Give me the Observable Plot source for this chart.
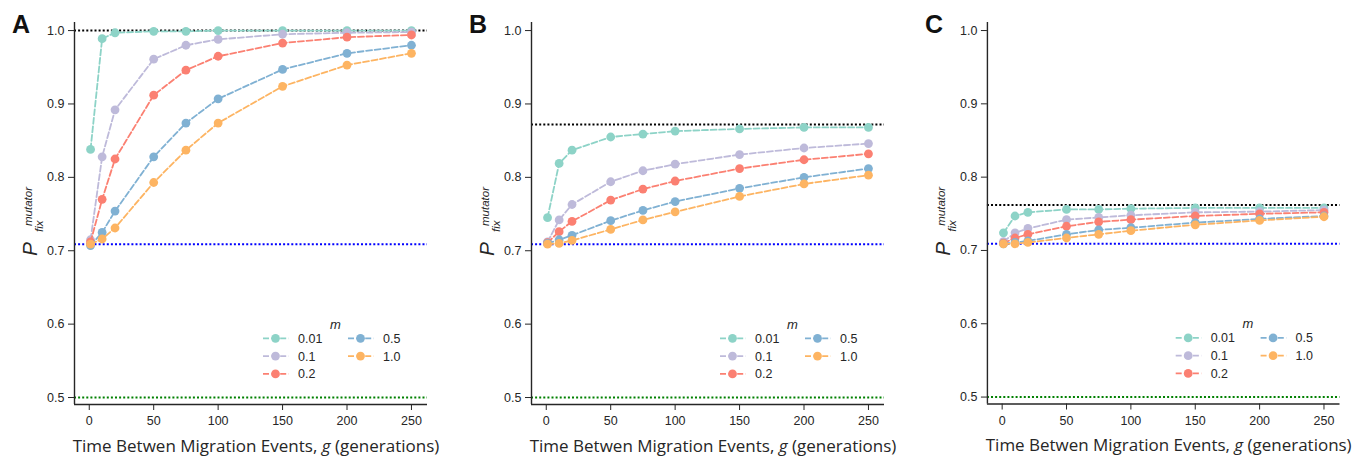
<!DOCTYPE html>
<html><head><meta charset="utf-8">
<script src="https://cdn.jsdelivr.net/npm/d3@7"></script>
<script src="https://cdn.jsdelivr.net/npm/@observablehq/plot@0.6"></script>
<style>
body{margin:0;background:#fff;}
#wrap{position:relative;width:1355px;height:457px;overflow:hidden;}
.panel{position:absolute;top:0;}
</style></head><body><div id="wrap"></div>
<script>
// ---- data ----
const g = [1, 10, 20, 50, 75, 100, 150, 200, 250];
const mLabels = ["0.01", "0.1", "0.2", "0.5", "1.0"];
const mColors = ["#8dd3c7", "#bebada", "#fb8072", "#80b1d3", "#fdb462"];
const panelLetters = ["A", "B", "C"];
const refTop = [1.0, 0.872, 0.762];     // black dotted line
const refBase = 0.709;                  // blue dotted line
const refHalf = 0.5;                    // green dotted line
const yTicks = [0.5, 0.6, 0.7, 0.8, 0.9, 1.0];
const xTicks = [0, 50, 100, 150, 200, 250];

const panelA = [
  [0.838, 0.989, 0.997, 0.999, 0.999, 1.000, 1.000, 1.000, 1.000],
  [0.715, 0.828, 0.892, 0.961, 0.980, 0.988, 0.995, 0.997, 0.998],
  [0.712, 0.770, 0.825, 0.912, 0.946, 0.965, 0.983, 0.991, 0.994],
  [0.707, 0.725, 0.754, 0.828, 0.874, 0.907, 0.947, 0.969, 0.980],
  [0.709, 0.716, 0.731, 0.793, 0.837, 0.874, 0.924, 0.953, 0.969]
];
const panelB = [
  [0.745, 0.819, 0.837, 0.855, 0.859, 0.863, 0.866, 0.868, 0.868],
  [0.712, 0.742, 0.763, 0.794, 0.809, 0.818, 0.831, 0.840, 0.846],
  [0.711, 0.726, 0.740, 0.769, 0.784, 0.795, 0.812, 0.824, 0.832],
  [0.710, 0.715, 0.721, 0.741, 0.755, 0.767, 0.785, 0.800, 0.812],
  [0.709, 0.710, 0.714, 0.729, 0.742, 0.753, 0.774, 0.791, 0.803]
];
const panelC = [
  [0.724, 0.747, 0.752, 0.756, 0.756, 0.757, 0.758, 0.758, 0.758],
  [0.712, 0.724, 0.730, 0.742, 0.745, 0.748, 0.752, 0.753, 0.755],
  [0.710, 0.717, 0.722, 0.733, 0.739, 0.742, 0.747, 0.750, 0.752],
  [0.709, 0.711, 0.713, 0.722, 0.728, 0.731, 0.738, 0.743, 0.747],
  [0.709, 0.709, 0.711, 0.717, 0.722, 0.727, 0.735, 0.741, 0.746]
];
const panels = [panelA, panelB, panelC];

// ---- layout ----
const panelLeft = [0, 456.5, 912.5];
const panelWidth = [456, 456, 443];
const xDomain = [-11.45, 262.45];
const yDomain = [0.4905, 1.011];
const ML = 74, PW = 353;
const FONT = "'Liberation Sans', Arial, sans-serif";
const INK = "#262626";

const wrap = document.getElementById("wrap");

panels.forEach((vals, i) => {
  const marks = [
    Plot.ruleY([refTop[i]], {stroke: "black", strokeWidth: 2, strokeDasharray: "2,2.1"}),
    Plot.ruleY([refBase], {stroke: "#0000ff", strokeWidth: 2, strokeDasharray: "2,2.1"}),
    Plot.ruleY([refHalf], {stroke: "#008000", strokeWidth: 2, strokeDasharray: "2,2.1"})
  ];
  vals.forEach((series, k) => {
    const rows = series.map((p, j) => ({g: g[j], p, m: mLabels[k]}));
    marks.push(Plot.line(rows, {x: "g", y: "p", stroke: mColors[k], strokeWidth: 1.8, strokeDasharray: "6,2.6"}));
    marks.push(Plot.dot(rows, {x: "g", y: "p", fill: mColors[k], r: 4.4}));
  });
  marks.push(
    Plot.axisX({ticks: xTicks, tickSize: 6, tickPadding: 6, label: null, tickFormat: d => String(d)}),
    Plot.axisY({ticks: yTicks, tickSize: 6, tickPadding: 4, label: null, tickFormat: d3.format(".1f")}),
    Plot.ruleY([yDomain[0]], {stroke: INK, strokeWidth: 1.4}),
    Plot.ruleX([xDomain[0]], {stroke: INK, strokeWidth: 1.4})
  );

  const svgEl = Plot.plot({
    width: panelWidth[i],
    height: 457,
    marginLeft: ML,
    marginRight: panelWidth[i] - ML - PW,
    marginTop: 22,
    marginBottom: 53,
    x: {domain: xDomain},
    y: {domain: yDomain},
    style: {fontFamily: FONT, fontSize: "12.5px", color: INK, background: "transparent", overflow: "visible"},
    marks
  });

  const svg = d3.select(svgEl);
  const txt = (sel) => sel.attr("text-anchor", "start").attr("font-family", FONT).attr("fill", INK);
  // panel letter
  txt(svg.append("text")).attr("x", 12).attr("y", 33)
    .attr("font-weight", "bold").attr("font-size", 25)
    .attr("fill", "#111").text(panelLetters[i]);
  // y label: P_fix^mutator
  txt(svg.append("text")).attr("transform", "translate(37,256) rotate(-90)")
    .attr("font-style", "italic").attr("font-size", 21).text("P");
  txt(svg.append("text")).attr("transform", "translate(32,226) rotate(-90)")
    .attr("font-style", "italic").attr("font-size", 11.5).text("mutator");
  txt(svg.append("text")).attr("transform", "translate(43,232) rotate(-90)")
    .attr("font-style", "italic").attr("font-size", 11.5).text("fix");
  // x label
  const xl = svg.append("text").attr("x", 256).attr("y", 452)
    .attr("text-anchor", "middle").attr("font-family", "'Open Sans', sans-serif")
    .attr("font-size", 17).attr("fill", INK);
  xl.append("tspan").text("Time Betwen Migration Events, ");
  xl.append("tspan").attr("font-style", "italic").text("g");
  xl.append("tspan").text(" (generations)");

  // legend
  const lg = svg.append("g").attr("transform", `translate(${ML},0)`);
  txt(lg.append("text")).attr("x", 256).attr("y", 328.5)
    .attr("font-style", "italic").attr("font-size", 13).text("m");
  const colX = [189, 274];
  const rowY = [338.3, 356.1, 373.9];
  mLabels.forEach((lab, k) => {
    const c = k < 3 ? 0 : 1, r = k < 3 ? k : k - 3;
    const x0 = colX[c], y0 = rowY[r];
    lg.append("line").attr("x1", x0).attr("x2", x0 + 26).attr("y1", y0).attr("y2", y0)
      .attr("stroke", mColors[k]).attr("stroke-width", 1.8).attr("stroke-dasharray", "6,2.6");
    lg.append("circle").attr("cx", x0 + 12.5).attr("cy", y0).attr("r", 4.4).attr("fill", mColors[k]);
    txt(lg.append("text")).attr("x", x0 + 35).attr("y", y0 + 4.4)
      .attr("font-size", 12.5).text(lab);
  });

  const div = document.createElement("div");
  div.className = "panel";
  div.style.left = panelLeft[i] + "px";
  div.appendChild(svgEl);
  wrap.appendChild(div);
});
</script></body></html>
